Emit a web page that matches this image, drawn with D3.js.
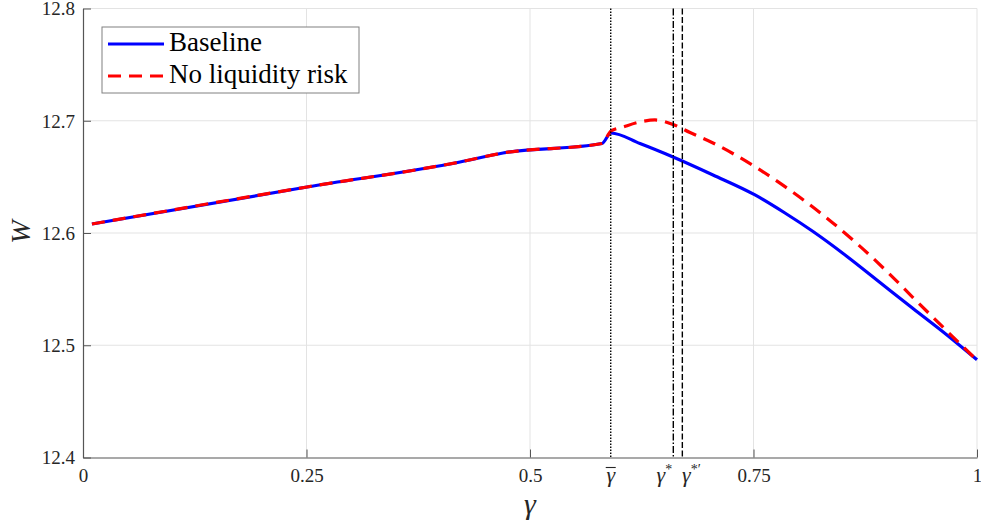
<!DOCTYPE html>
<html><head><meta charset="utf-8">
<script src="https://cdn.jsdelivr.net/npm/d3@7"></script>
<style>body{margin:0;background:#fff}svg{display:block}</style>
</head><body>
<svg id="c" width="981" height="527"></svg>
<script>
// ---- data ----
const gammaBase = [0.010, 0.2506, 0.4217, 0.4698, 0.5805, 0.5906, 0.623, 0.660, 0.7047, 0.7517, 0.7852, 0.8166, 0.8546, 0.8915, 0.9284, 0.9664, 1.0];
const wBase     = [12.608, 12.641, 12.6633, 12.6713, 12.6797, 12.6891, 12.6797, 12.6677, 12.6517, 12.6339, 12.6178, 12.6013, 12.5791, 12.5559, 12.5327, 12.5091, 12.4870];
const gammaNoLiq = [0.010, 0.2506, 0.4217, 0.4698, 0.5805, 0.5906, 0.604, 0.623, 0.6398, 0.660, 0.679, 0.7047, 0.7539, 0.7908, 0.8322, 0.8658, 0.8993, 0.9284, 0.9698, 1.0];
const wNoLiq     = [12.608, 12.641, 12.6633, 12.6713, 12.6797, 12.6909, 12.6944, 12.6989, 12.7007, 12.6967, 12.6895, 12.6802, 12.6579, 12.6382, 12.6132, 12.5905, 12.5657, 12.5425, 12.5100, 12.4866];
const xTicks = [0, 0.25, 0.5, 0.75, 1];
const xTickLabels = ["0", "0.25", "0.5", "0.75", "1"];
const yTicks = [12.4, 12.5, 12.6, 12.7, 12.8];
const yTickLabels = ["12.4", "12.5", "12.6", "12.7", "12.8"];
const refGammas = [0.5903, 0.6603, 0.6704];
const refNames = ["gammaBar", "gammaStar", "gammaStarPrime"];
const seriesNames = ["Baseline", "No liquidity risk"];

// ---- layout ----
const svg = d3.select("#c");
const L = 83, R = 977, T = 8.5, B = 457.5;
const x = d3.scaleLinear().domain([0, 1]).range([L, R]);
const y = d3.scaleLinear().domain([12.4, 12.8]).range([B, T]);
const FONT = '"Liberation Serif"';
const AX = "#555";
const TXT = "#262626";

// grid
const grid = svg.append("g");
grid.selectAll("line.gx").data(xTicks.filter(d => d > 0)).join("line")
  .attr("x1", d => x(d)).attr("x2", d => x(d)).attr("y1", T).attr("y2", B)
  .attr("stroke", "#e3e3e3").attr("stroke-width", 1);
grid.selectAll("line.gy").data(yTicks.filter(d => d > 12.4)).join("line")
  .attr("x1", L).attr("x2", R).attr("y1", d => y(d)).attr("y2", d => y(d))
  .attr("stroke", "#e3e3e3").attr("stroke-width", 1);

// axes
const xAxis = d3.axisBottom(x).tickValues(xTicks).tickFormat((d, i) => xTickLabels[i])
  .tickSizeInner(-8).tickSizeOuter(0).tickPadding(19);
const gx = svg.append("g").attr("transform", `translate(0,${B})`).call(xAxis);
const yAxis = d3.axisLeft(y).tickValues(yTicks).tickFormat((d, i) => yTickLabels[i])
  .tickSizeInner(-8).tickSizeOuter(0).tickPadding(8);
const gy = svg.append("g").attr("transform", `translate(${L},0)`).call(yAxis);
[gx, gy].forEach(g => {
  g.select(".domain").attr("stroke", AX).attr("stroke-width", 1.2);
  g.selectAll(".tick line").attr("stroke", AX).attr("stroke-width", 1);
  g.selectAll(".tick text").attr("fill", TXT).style("font-family", FONT).style("font-size", "19px");
});
gx.selectAll(".tick text").attr("dy", "0").attr("y", 24);
gy.selectAll(".tick text").attr("dy", "0.34em");

// lines
const line = d3.line().x(d => x(d[0])).y(d => y(d[1])).curve(d3.curveMonotoneX);
const base = gammaBase.map((g, i) => [g, wBase[i]]);
const noliq = gammaNoLiq.map((g, i) => [g, wNoLiq[i]]);
svg.append("path").datum(base).attr("d", line).attr("fill", "none")
  .attr("stroke", "#0000ff").attr("stroke-width", 3.2);
svg.append("path").datum(noliq).attr("d", line).attr("fill", "none")
  .attr("stroke", "#ff0000").attr("stroke-width", 3.2).attr("stroke-dasharray", "13,8");

// reference lines
const dashes = ["1.5,1.5", "7,2,1.5,2", "6,2.5"];
svg.selectAll("line.ref").data(refGammas).join("line")
  .attr("x1", d => x(d)).attr("x2", d => x(d)).attr("y1", T).attr("y2", B)
  .attr("stroke", "#000").attr("stroke-width", 1.4)
  .attr("stroke-dasharray", (d, i) => dashes[i]);

// reference labels
const labY = B + 24;
const labOff = [0, -9, 9];
refGammas.forEach((g, i) => {
  const t = svg.append("text").attr("x", x(g) + labOff[i]).attr("y", labY)
    .attr("text-anchor", "middle").attr("fill", TXT)
    .style("font-family", FONT).style("font-size", "22px");
  t.append("tspan").style("font-style", "italic").text("γ");
  if (refNames[i] === "gammaStar") {
    t.append("tspan").attr("dy", -8).style("font-size", "14px").text("*");
  } else if (refNames[i] === "gammaStarPrime") {
    t.append("tspan").attr("dy", -8).style("font-size", "14px").text("*′");
  } else {
    svg.append("line").attr("x1", x(g) - 5).attr("x2", x(g) + 5)
      .attr("y1", labY - 14).attr("y2", labY - 14).attr("stroke", TXT).attr("stroke-width", 1.1);
  }
});

// axis titles
svg.append("text").attr("x", x(0.5)).attr("y", 514).attr("text-anchor", "middle")
  .attr("fill", TXT).style("font-family", FONT).style("font-style", "italic").style("font-size", "30px").text("γ");
svg.append("text").attr("transform", "translate(30,232) rotate(-90)").attr("text-anchor", "middle")
  .attr("fill", TXT).style("font-family", FONT).style("font-style", "italic").style("font-size", "28px").text("W");

// legend
const lg = svg.append("g");
lg.append("rect").attr("x", 102).attr("y", 27).attr("width", 257).attr("height", 66)
  .attr("fill", "#fff").attr("stroke", "#808080").attr("stroke-width", 1);
const legY = [44, 76];
const legColors = ["#0000ff", "#ff0000"];
const legDash = [null, "13,8"];
seriesNames.forEach((n, i) => {
  lg.append("line").attr("x1", 108).attr("x2", 164).attr("y1", legY[i]).attr("y2", legY[i])
    .attr("stroke", legColors[i]).attr("stroke-width", 3.2).attr("stroke-dasharray", legDash[i]);
  lg.append("text").attr("x", 169).attr("y", legY[i] + 7).attr("fill", "#000")
    .style("font-family", FONT).style("font-size", "27px").text(n);
});
</script>
</body></html>
